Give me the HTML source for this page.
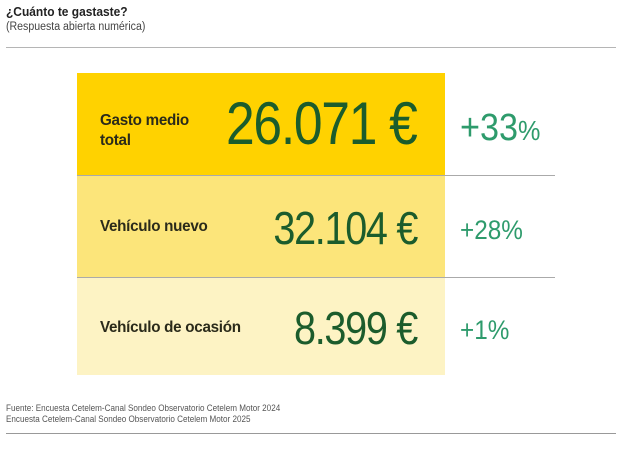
<!DOCTYPE html>
<html><head><meta charset="utf-8"><style>
body{margin:0;width:623px;height:450px;background:#fff;position:relative;overflow:hidden;font-family:"Liberation Sans",sans-serif}
.a{position:absolute;white-space:nowrap}
.line{position:absolute;height:1px;background:#b5b5b5}
.box{position:absolute;left:77px;width:368px}
.lab{font-size:16px;font-weight:bold;color:#2a2a1a;letter-spacing:-0.3px;transform:scaleX(0.95);transform-origin:left}
.num{color:#1b5c2c;text-align:right;right:206px;transform:scaleX(0.86);transform-origin:right;letter-spacing:-1.5px}
.pct{color:#2e9b6c;transform:scaleX(0.9);transform-origin:left}
</style></head><body>
<div class="a" style="left:6px;top:4px;font-size:13px;font-weight:bold;color:#222;transform:scaleX(0.92);transform-origin:left">¿Cuánto te gastaste?</div>
<div class="a" style="left:6px;top:21px;font-size:11.5px;color:#444;transform:scaleX(0.92);transform-origin:left">(Respuesta abierta numérica)</div>
<div class="line" style="left:6px;top:47px;width:610px"></div>

<div class="box" style="top:73px;height:102px;background:#FFD200"></div>
<div class="box" style="top:176px;height:101px;background:#FCE57A"></div>
<div class="box" style="top:278px;height:97px;background:#FDF3C4"></div>
<div class="line" style="left:77px;top:175px;width:478px;background:#aaa"></div>
<div class="line" style="left:77px;top:277px;width:478px;background:#aaa"></div>

<div class="a lab" style="left:100px;top:111px;line-height:20px">Gasto medio<br>total</div>
<div class="a num" style="top:88px;font-size:60px;line-height:72px">26.071 €</div>
<div class="a pct" style="left:460px;top:106px;font-size:38px;line-height:44px">+33<span style="font-size:28px">%</span></div>

<div class="a lab" style="left:100px;top:218px">Vehículo nuevo</div>
<div class="a num" style="top:201px;font-size:46px;line-height:54px">32.104 €</div>
<div class="a pct" style="left:460px;top:214px;font-size:27px;line-height:32px">+28%</div>

<div class="a lab" style="left:100px;top:319px">Vehículo de ocasión</div>
<div class="a num" style="top:301px;font-size:46px;line-height:54px">8.399 €</div>
<div class="a pct" style="left:460px;top:314px;font-size:27px;line-height:32px">+1%</div>

<div class="a" style="left:6px;top:403px;font-size:9px;color:#555;line-height:11px;transform:scaleX(0.9);transform-origin:left">Fuente: Encuesta Cetelem-Canal Sondeo Observatorio Cetelem Motor 2024<br>Encuesta Cetelem-Canal Sondeo Observatorio Cetelem Motor 2025</div>
<div class="line" style="left:6px;top:433px;width:610px;background:#999"></div>
</body></html>
